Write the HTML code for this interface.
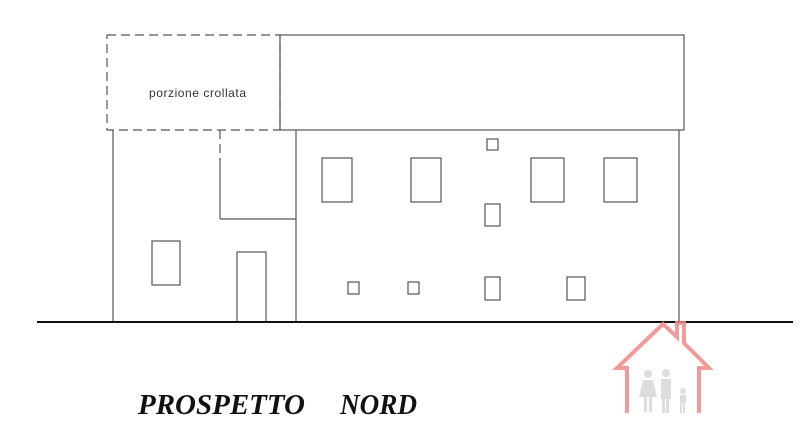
<!DOCTYPE html>
<html><head><meta charset="utf-8"><style>html,body{margin:0;padding:0;background:#fff;}svg{display:block}</style></head>
<body>
<svg width="800" height="445" viewBox="0 0 800 445" xmlns="http://www.w3.org/2000/svg">
<g fill="none" stroke="#555" stroke-width="1.2">
<rect x="107" y="35" width="173" height="95" stroke-dasharray="9,5"/>
<rect x="280" y="35" width="404" height="95"/>
<line x1="113" y1="130" x2="113" y2="322"/>
<line x1="296" y1="130" x2="296" y2="322"/>
<line x1="679" y1="130" x2="679" y2="322"/>
<line x1="220" y1="130" x2="220" y2="160" stroke-dasharray="9,5"/>
<line x1="220" y1="158" x2="220" y2="219"/>
<line x1="220" y1="219" x2="296" y2="219"/>
<rect x="152" y="241" width="28" height="44"/>
<rect x="237" y="252" width="29" height="70"/>
<rect x="322" y="158" width="30" height="44"/>
<rect x="411" y="158" width="30" height="44"/>
<rect x="531" y="158" width="33" height="44"/>
<rect x="604" y="158" width="33" height="44"/>
<rect x="487" y="139" width="11" height="11"/>
<rect x="485" y="204" width="15" height="22"/>
<rect x="348" y="282" width="11" height="12"/>
<rect x="408" y="282" width="11" height="12"/>
<rect x="485" y="277" width="15" height="23"/>
<rect x="567" y="277" width="18" height="23"/>
</g>
<line x1="37" y1="322" x2="793" y2="322" stroke="#111" stroke-width="2"/>
<text x="149" y="97" font-family="Liberation Sans, sans-serif" font-size="12" fill="#333" textLength="97" lengthAdjust="spacing">porzione  crollata</text>
<g fill="none" stroke="#e88" stroke-width="4" opacity="0.85">
<polyline points="627,413 627,368 617,368 663,324 677,337 677,323 684,323 684,343 709,368 699,368 699,413"/>
</g>
<g fill="#ddd">
<circle cx="648" cy="374" r="4"/><path d="M643,380h10l4,17h-5v15h-3v-15h-2v15h-3v-15h-5z"/>
<circle cx="666" cy="373" r="4"/><path d="M661,379h10v20h-2v14h-3v-14h-1v14h-3v-14h-1z"/>
<circle cx="683" cy="391" r="3"/><path d="M680,395h6v8h-1v10h-2v-10h-1v10h-2z"/>
</g>
<text x="138" y="414" font-family="Liberation Serif, serif" font-weight="bold" font-style="italic" font-size="29" fill="#111" textLength="167" lengthAdjust="spacingAndGlyphs">PROSPETTO</text>
<text x="340" y="414" font-family="Liberation Serif, serif" font-weight="bold" font-style="italic" font-size="29" fill="#111" textLength="77" lengthAdjust="spacingAndGlyphs">NORD</text>
</svg>
</body></html>
